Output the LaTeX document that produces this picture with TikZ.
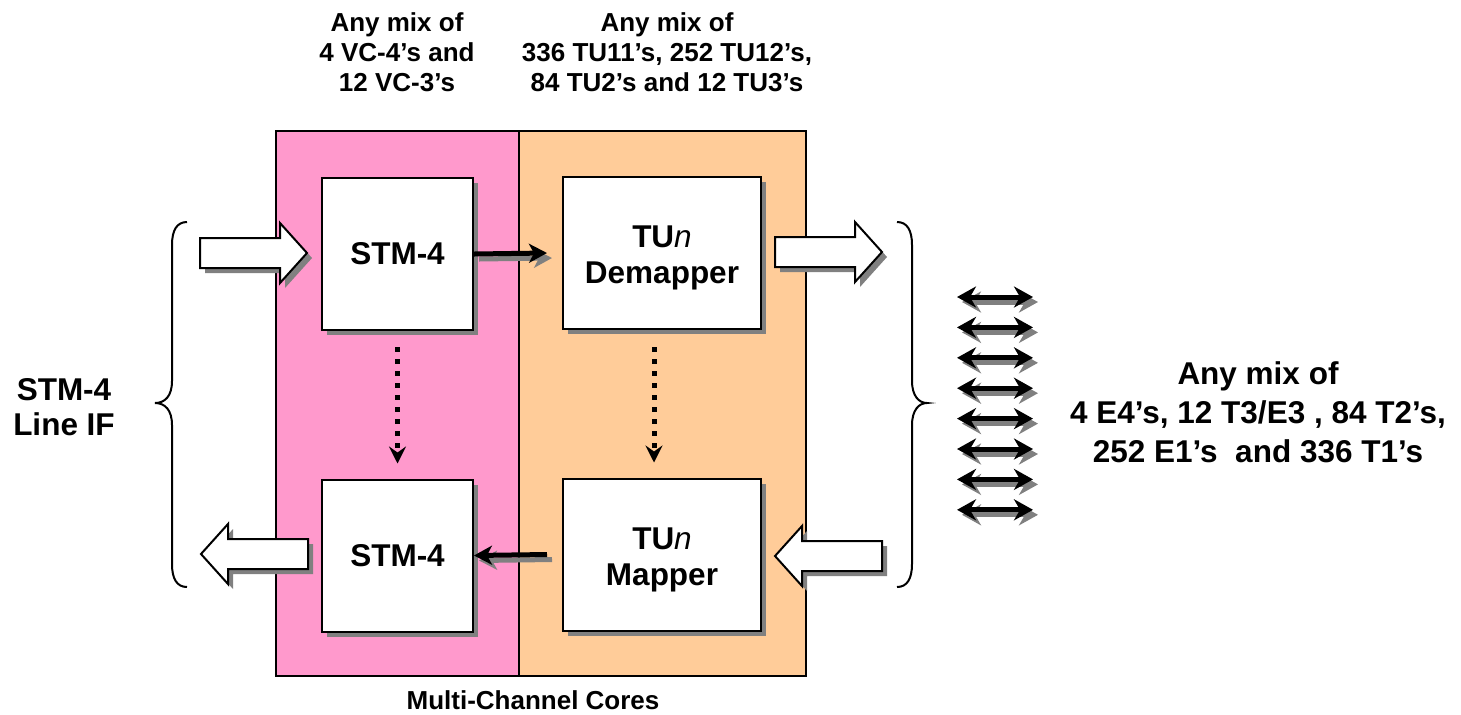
\documentclass[tikz,border=0pt]{standalone}
\usepackage{fontspec}
\setmainfont{Liberation Sans}
\usetikzlibrary{arrows.meta,shadows}
\definecolor{corepink}{RGB}{255,153,204}
\definecolor{coreorange}{RGB}{255,204,153}
\definecolor{shadowgray}{RGB}{128,128,128}

% block arrow: tail x, tip x, centre y (drawn with a grey shadow)
\newcommand\hollowarrow[3]{%
  \pgfmathsetmacro\headbase{#2-(#2-#1)*27/107}%
  \foreach \dd/\sty in {5/shadowfill,0/arrowfill}{%
    \path[\sty,shift={(\dd,\dd)}]
      (#1,#3-15) -- (\headbase,#3-15) -- (\headbase,#3-30) -- (#2,#3)
      -- (\headbase,#3+30) -- (\headbase,#3+15) -- (#1,#3+15) -- cycle;
  }%
}

\tikzset{
  corebox/.style={draw=black,line width=1pt,fill=white,minimum height=76pt,
    inner sep=0pt,align=center,font=\bfseries\fontsize{15.75}{18}\selectfont,
    drop shadow={shadow xshift=2.5pt,shadow yshift=-2.5pt,fill=shadowgray,opacity=1}},
  boxtext/.style={align=center,inner sep=0pt,yshift=-2.5pt,
    font=\bfseries\fontsize{15.75}{18}\selectfont},
  arrowfill/.style={fill=white,draw=black,line width=1pt,line join=miter},
  shadowfill/.style={fill=shadowgray},
  shadowlayer/.style={draw=shadowgray,transform canvas={shift={(2.5pt,-2.5pt)}}},
  toplayer/.style={draw=black},
  solidarrow/.style={line width=2.5pt,-{Stealth[length=9pt,width=9.5pt,inset=2.5pt]}},
  twoway/.style={line width=2.5pt,{Stealth[length=9.5pt,width=10.5pt,inset=3pt]}-{Stealth[length=9.5pt,width=10.5pt,inset=3pt]}},
  dotarrow/.style={line width=2.5pt,dash pattern=on 2.5pt off 3.5pt,
    -{Stealth[length=8.5pt,width=8.5pt,inset=3pt]}},
  smalllabel/.style={align=center,font=\bfseries\fontsize{13}{15}\selectfont},
  biglabel/.style={align=center,font=\bfseries\fontsize{15.75}{17.5}\selectfont},
  bracepath/.style={draw=black,line width=1pt},
}

\begin{document}
\begin{tikzpicture}[x=0.5pt,y=-0.5pt]
\useasboundingbox (0,0) rectangle (1461,714);

% core regions
\filldraw[fill=corepink,draw=black,line width=1pt] (276,131) rectangle (519,676);
\filldraw[fill=coreorange,draw=black,line width=1pt] (519,131) rectangle (806,676);

% processing blocks
\node[corebox,minimum width=75.5pt] (stmrx) at (397.5,254) {STM-4};
\node[corebox,minimum width=99pt,label={[boxtext]center:TU{\mdseries\itshape n}\\Demapper}] (demap) at (662,253) {};
\node[corebox,minimum width=75.5pt] (stmtx) at (397.5,555.5) {STM-4};
\node[corebox,minimum width=99pt,label={[boxtext]center:TU{\mdseries\itshape n}\\Mapper}] (map) at (662,554.5) {};

% data paths between blocks
\foreach \lay in {shadowlayer,toplayer}{
  \draw[solidarrow,\lay] (stmrx.east) -- ([xshift=-7.5pt]demap.west);
  \draw[solidarrow,\lay] ([xshift=-7.5pt]map.west) -- (stmtx.east);
}

% loopback paths
\draw[dotarrow] ([yshift=-8pt]stmrx.south) -- ([yshift=7.5pt]stmtx.north);
\draw[dotarrow] ([xshift=-4pt,yshift=-8.5pt]demap.south) -- ([xshift=-4pt,yshift=7.5pt]map.north);

% line-side and tributary-side block arrows
\hollowarrow{200}{307}{253}
\hollowarrow{775}{882}{252}
\hollowarrow{308}{201}{554}
\hollowarrow{882}{775}{556}

% braces
\path[bracepath] (187,222) .. controls (177,222) and (172,230) .. (172,245)
  -- (172,381) .. controls (172,396) and (165,403) .. (155,403)
  .. controls (165,403) and (172,410) .. (172,425)
  -- (172,564) .. controls (172,579) and (177,587) .. (187,587);
\path[bracepath] (897,222) .. controls (907,222) and (912,230) .. (912,245)
  -- (912,381) .. controls (912,396) and (919,403) .. (927,403)
  .. controls (919,403) and (912,410) .. (912,425)
  -- (912,564) .. controls (912,579) and (907,587) .. (897,587);

% tributary interfaces
\foreach \i in {0,...,7}{
  \coordinate (tl\i) at (957,{297+30.4*\i});
  \coordinate (tr\i) at (1033,{297+30.4*\i});
}
\foreach \lay in {shadowlayer,toplayer}{
  \foreach \i in {0,...,7}{
    \draw[twoway,\lay] (tl\i) -- (tr\i);
  }
}

% labels
\node[smalllabel] (mixvc) at (397,52) {Any mix of\\4 VC-4’s and\\12 VC-3’s};
\node[smalllabel] (mixtu) at (667,52) {Any mix of\\336 TU11’s, 252 TU12’s,\\84 TU2’s and 12 TU3’s};
\node[biglabel] (lineif) at (64,407) {STM-4\\Line IF};
\node[align=center,font=\bfseries\fontsize{15.75}{19.5}\selectfont] (mixtrib) at (1258,412)
  {Any mix of\\4 E4’s, 12 T3/E3 , 84 T2’s,\\252 E1’s\ \ and 336 T1’s};
\node[smalllabel] (cores) at (533,700) {Multi-Channel Cores};
\end{tikzpicture}
\end{document}
